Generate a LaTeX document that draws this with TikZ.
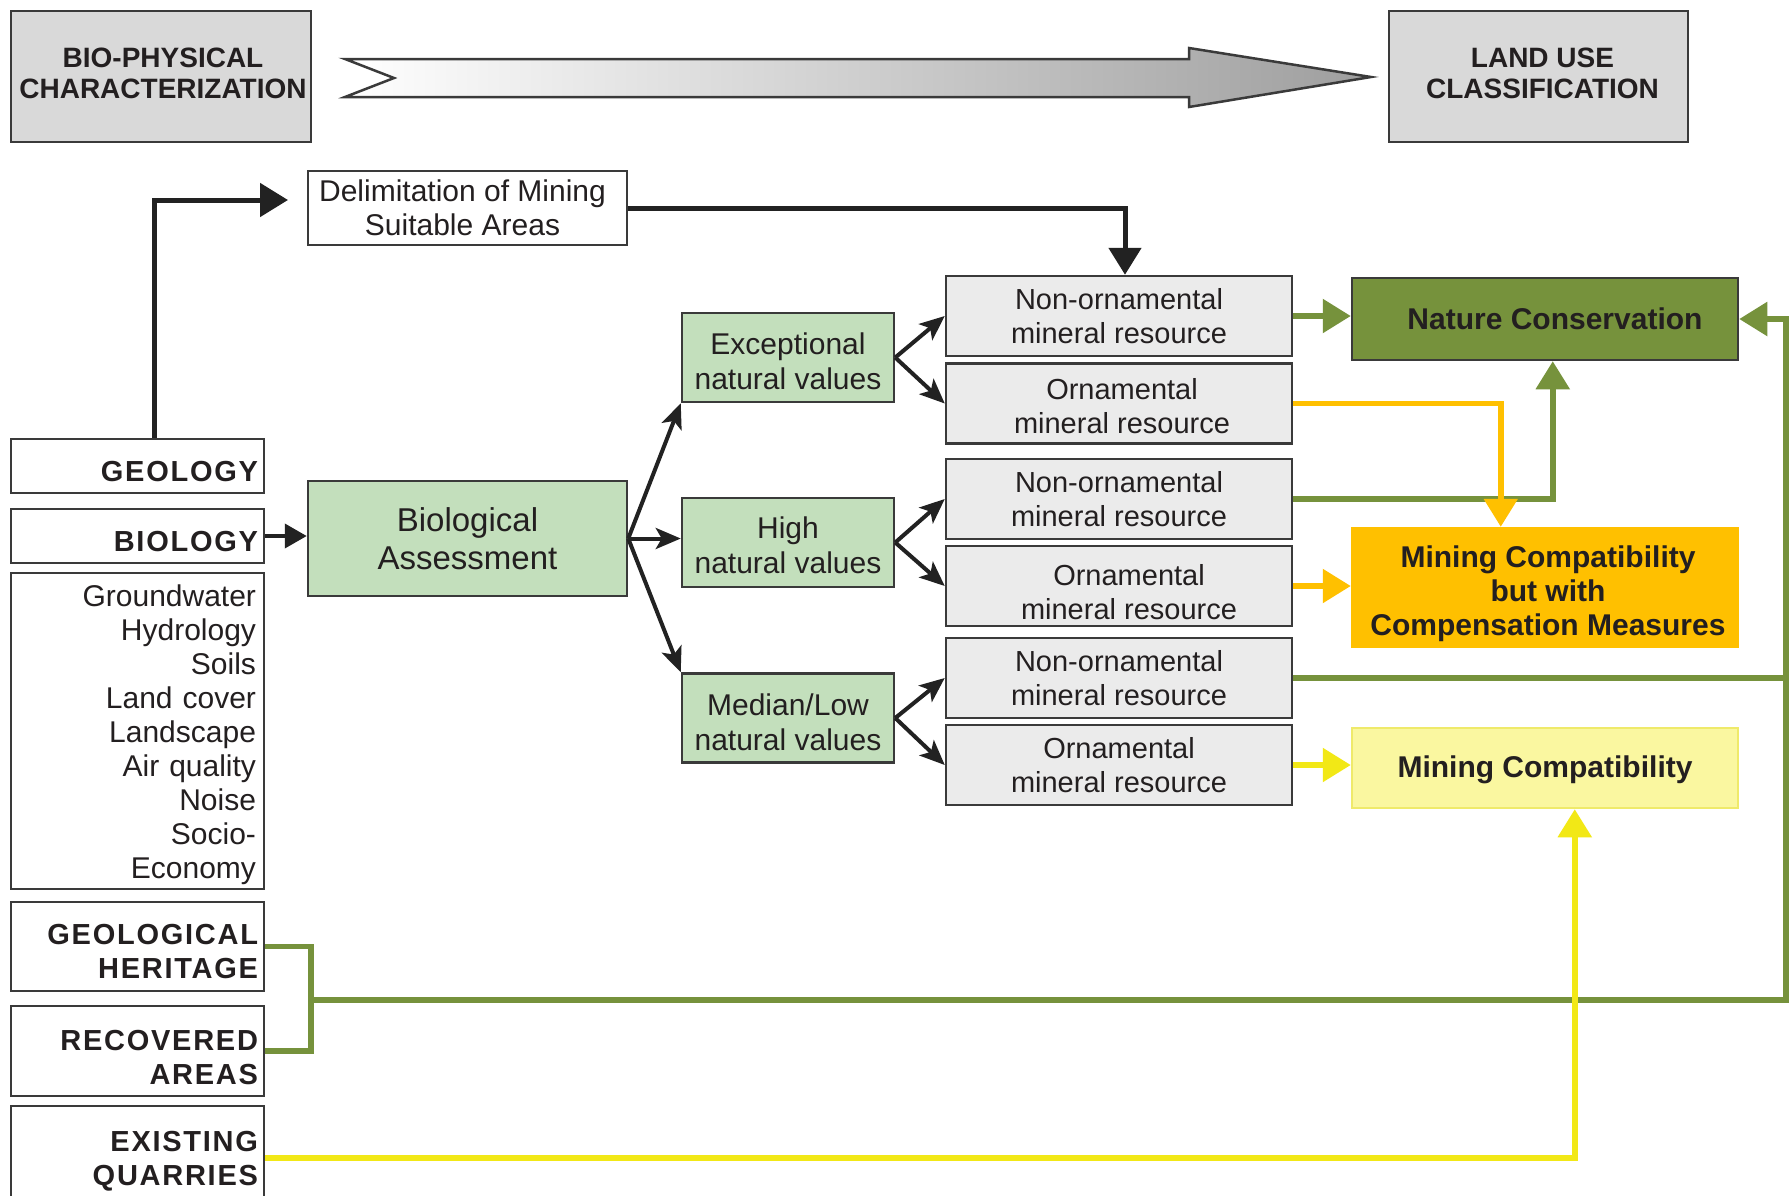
\documentclass[tikz,border=0pt]{standalone}
\usepackage{fontspec}
\setmainfont{Liberation Sans}
\newfontfamily\spaced[LetterSpace=6]{Liberation Sans}
\usetikzlibrary{arrows.meta,calc}
\newcommand\sh[2]{\raisebox{#1}[\height][\depth]{#2}}
\definecolor{txt}{HTML}{231F20}
\definecolor{edge}{HTML}{3A3A3A}
\definecolor{titlegray}{HTML}{D9D9D9}
\definecolor{mingray}{HTML}{EBEBEB}
\definecolor{valgreen}{HTML}{C3DFBC}
\definecolor{ncgreen}{HTML}{76923C}
\definecolor{ambr}{HTML}{FFC000}
\definecolor{paleyel}{HTML}{FAF7A0}
\definecolor{yelline}{HTML}{F2E816}
\definecolor{yelborder}{HTML}{EFEA6A}
\definecolor{blk}{HTML}{222222}
\tikzset{
  box/.style={draw=edge, line width=2.5pt, text=txt, inner sep=0pt, align=center},
  titlebox/.style={box, fill=titlegray, font=\fontsize{28}{31}\selectfont\bfseries},
  leftbox/.style={box, fill=white, minimum width=253pt, text width=241pt, align=right, font=\spaced\fontsize{29}{34}\selectfont\bfseries},
  valbox/.style={box, fill=valgreen, minimum width=212pt, minimum height=89pt, font=\fontsize{30}{35}\selectfont},
  minbox/.style={box, fill=mingray, minimum width=346pt, minimum height=80pt, font=\fontsize{29}{34}\selectfont},
  outbox/.style={box, minimum width=386pt, font=\fontsize{30}{34}\selectfont\bfseries},
  blkline/.style={draw=blk, line width=5pt},
  forkline/.style={draw=blk, line width=4pt, -{Stealth[length=25pt,width=21pt,inset=6pt]}},
  gline/.style={draw=ncgreen, line width=5.5pt},
  oline/.style={draw=ambr, line width=5.5pt},
  yline/.style={draw=yelline, line width=5.5pt},
  bigtip/.style={-{Triangle[length=28pt,width=33pt]}}
}
\begin{document}
\begin{tikzpicture}[x=1pt,y=-1pt]
\useasboundingbox (0,0) rectangle (1791,1195);
\clip (0,0) rectangle (1791,1195);
\fill[white] (0,0) rectangle (1791,1195);

% top band
\node[titlebox, minimum width=300pt, minimum height=131pt] (bp) at (161,76.5) {\sh{3pt}{\hspace*{4pt}BIO-PHYSICAL}\\\sh{3pt}{\hspace*{4pt}CHARACTERIZATION}};
\node[titlebox, minimum width=299pt, minimum height=131pt] (lu) at (1538.5,76.5) {\sh{3pt}{\hspace*{8pt}LAND USE}\\\sh{3pt}{\hspace*{8pt}CLASSIFICATION}};
\path[draw=edge, line width=2.5pt, left color=white, right color=black!38]
  (345,59) -- (1189,59) -- (1189,48) -- (1371,77) -- (1189,107) -- (1189,97) -- (345,97) -- (394,78) -- cycle;

% left column
\node[leftbox, minimum height=54pt] (geology) at (137.5,466) {\sh{-6pt}{GEOLOGY}};
\node[leftbox, minimum height=54pt] (biology) at (137.5,536) {\sh{-6pt}{BIOLOGY}};
\node[box, fill=white, minimum width=253pt, minimum height=316pt, text width=237pt, align=right, font=\fontsize{30}{34}\selectfont] (factors) at (137.5,731)
  {\sh{-4pt}{Groundwater}\\\sh{-4pt}{Hydrology}\\\sh{-4pt}{Soils}\\\sh{-4pt}{Land cover}\\\sh{-4pt}{Landscape}\\\sh{-4pt}{Air quality}\\\sh{-4pt}{Noise}\\\sh{-4pt}{Socio-}\\\sh{-4pt}{Economy}};
\node[leftbox, minimum height=89pt] (geoher) at (137.5,946.5) {\sh{-5pt}{GEOLOGICAL}\\\sh{-5pt}{HERITAGE}};
\node[leftbox, minimum height=90pt] (recov) at (137.5,1051) {\sh{-6pt}{RECOVERED}\\\sh{-6pt}{AREAS}};
\node[leftbox, minimum height=104pt] (quarr) at (137.5,1158) {\sh{-3pt}{EXISTING}\\\sh{-3pt}{QUARRIES}};

% middle
\node[box, fill=white, minimum width=319pt, minimum height=74pt, font=\fontsize{30}{34}\selectfont] (delim) at (467.5,208) {Delimitation of Mining\hspace*{10pt}\\Suitable Areas\hspace*{10pt}};
\node[box, fill=valgreen, minimum width=319pt, minimum height=115pt, font=\fontsize{33}{38}\selectfont] (bio) at (467.5,538.5) {Biological\\Assessment};
\node[valbox] (exc) at (788,357.5) {\sh{-4pt}{Exceptional}\\\sh{-4pt}{natural values}};
\node[valbox] (high) at (788,542.5) {\sh{-3pt}{High}\\\sh{-3pt}{natural values}};
\node[valbox] (med) at (788,718) {\sh{-4pt}{Median/Low}\\\sh{-4pt}{natural values}};

\node[minbox] (no1) at (1119,316) {Non-ornamental\\mineral resource};
\node[minbox] (o1) at (1119,403.5) {\sh{-3pt}{\hspace*{6pt}Ornamental}\\\sh{-3pt}{\hspace*{6pt}mineral resource}};
\node[minbox] (no2) at (1119,499) {Non-ornamental\\mineral resource};
\node[minbox] (o2) at (1119,586) {\sh{-6pt}{\hspace*{20pt}Ornamental}\\\sh{-6pt}{\hspace*{20pt}mineral resource}};
\node[minbox] (no3) at (1119,678) {Non-ornamental\\mineral resource};
\node[minbox] (o3) at (1119,765) {Ornamental\\mineral resource};

% outcomes
\node[outbox, fill=ncgreen, minimum height=82pt] (nc) at (1545,319) {\hspace*{20pt}Nature Conservation};
\node[outbox, fill=ambr, draw=ambr, minimum height=119pt] (mcc) at (1545,587.5) {\sh{-6pt}{\hspace*{6pt}Mining Compatibility}\\\sh{-6pt}{\hspace*{6pt}but with}\\\sh{-6pt}{\hspace*{6pt}Compensation Measures}};
\node[outbox, fill=paleyel, draw=yelborder, minimum height=80pt] (mc) at (1545,768) {\sh{-2pt}{Mining Compatibility}};

% coordinates
\coordinate (gx) at (154,0);
\coordinate (gtip) at (288,200);
\coordinate (bx) at (311,0);
\coordinate (gy) at (0,1000);
\coordinate (rx) at (1786,0);

% black connectors
\draw[blkline, bigtip] (gx |- geology.north) |- (gtip);
\draw[blkline, -{Triangle[length=27pt,width=32pt]}] (delim.east) -| ($(no1.north)+(6,0)$);
\draw[draw=blk, line width=4pt, -{Triangle[length=22pt,width=24pt]}] (biology.east) -- (bio.west |- biology.east);
\draw[forkline] (bio.east) -- (exc.south west);
\draw[forkline] (bio.east) -- (high.west |- bio.east);
\draw[forkline] (bio.east) -- (med.north west);
\draw[forkline] (exc.east) -- (no1.west);
\draw[forkline] (exc.east) -- (o1.west);
\draw[forkline] (high.east) -- (no2.west);
\draw[forkline] (high.east) -- (o2.west);
\draw[forkline] (med.east) -- (no3.west);
\draw[forkline] (med.east) -- (o3.west);

% green connectors
\draw[gline, bigtip] (no1.east) -- (nc.west |- no1.east);
\draw[gline, bigtip] (no2.east) -| ($(nc.south west)+(202,0)$);
\draw[gline, bigtip] (no3.east) -| (rx |- nc.east) -- (nc.east);
\draw[gline] (geoher.east) -- (bx |- geoher.east) -- (bx |- recov.east) -- (recov.east);
\draw[gline] (bx |- gy) -| (rx |- no3.east);

% orange / yellow connectors
\draw[oline, bigtip] (o1.east) -| ($(mcc.north west)+(150,0)$);
\draw[oline, bigtip] (o2.east) -- (mcc.west |- o2.east);
\draw[yline, bigtip] (o3.east) -- (mc.west |- o3.east);
\draw[yline, bigtip] (quarr.east) -| ($(mc.south west)+(224,0)$);
\end{tikzpicture}
\end{document}
